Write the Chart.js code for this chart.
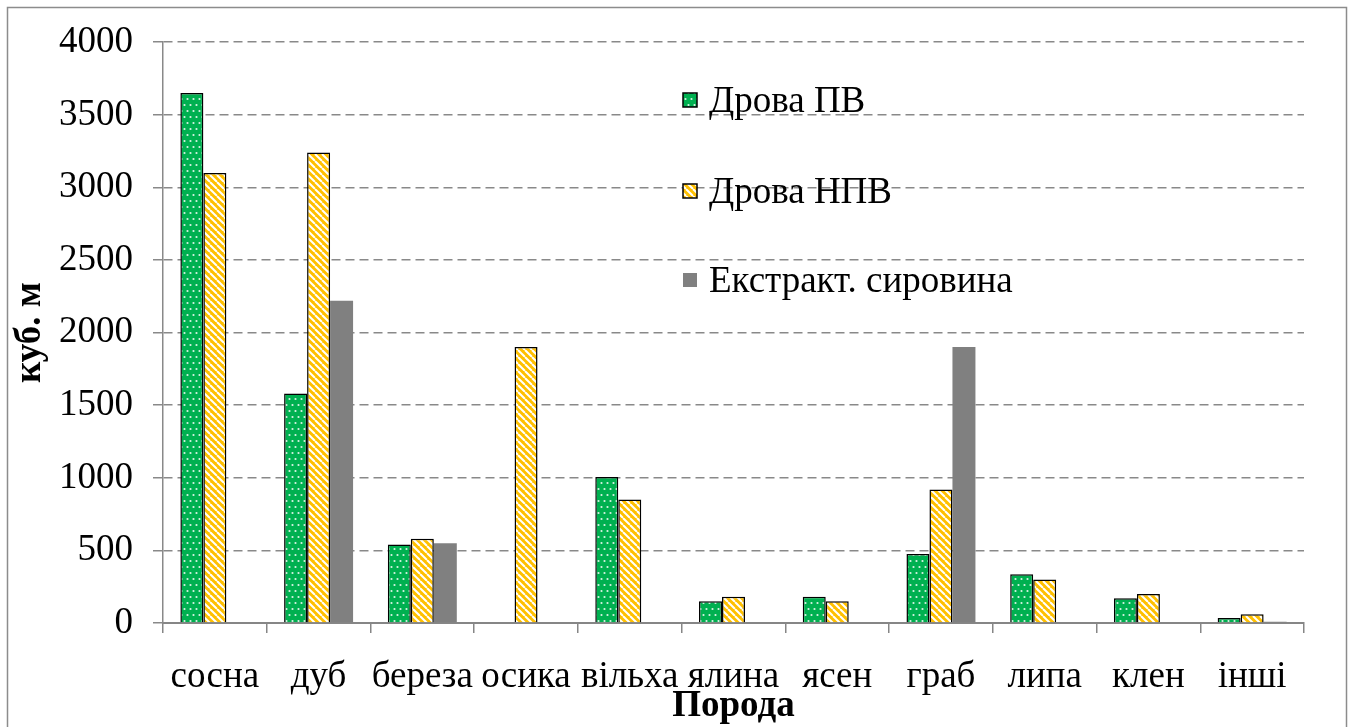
<!DOCTYPE html>
<html lang="uk">
<head>
<meta charset="UTF-8">
<title>Дрова по породах</title>
<script src="https://cdn.jsdelivr.net/npm/chart.js"></script>
<style>
  body { margin: 0; background: #fff; }
  canvas { display: block; }
</style>
</head>
<body>
<canvas id="woodChart" width="1351" height="727"></canvas>
<script>
// data
const categories = ['сосна', 'дуб', 'береза', 'осика', 'вільха', 'ялина', 'ясен', 'граб', 'липа', 'клен', 'інші'];
const drovaPV = [3650, 1580, 540, null, 1005, 150, 180, 475, 335, 170, 35];
const drovaNPV = [3100, 3240, 580, 1900, 850, 180, 150, 920, 300, 200, 60];
const ekstrakt = [null, 2220, 550, null, null, null, null, 1900, null, null, 8];
const seriesNames = ['Дрова ПВ', 'Дрова НПВ', 'Екстракт. сировина'];

const FONT = '"Liberation Serif", "Times New Roman", serif';

// green with white dots
function dotPattern() {
    const c = document.createElement('canvas');
    c.width = 6; c.height = 12;
    const g = c.getContext('2d');
    g.fillStyle = '#00B050';
    g.fillRect(0, 0, 6, 12);
    g.fillStyle = 'rgba(255,255,255,0.85)';
    g.beginPath(); g.arc(1.5, 3, 1.1, 0, Math.PI * 2); g.fill();
    g.beginPath(); g.arc(4.5, 9, 1.1, 0, Math.PI * 2); g.fill();
    return g.createPattern(c, 'repeat');
}

// yellow with white diagonal stripes
function stripePattern() {
    const c = document.createElement('canvas');
    c.width = 7; c.height = 7;
    const g = c.getContext('2d');
    g.fillStyle = '#FFC000';
    g.fillRect(0, 0, 7, 7);
    g.strokeStyle = '#ffffff';
    g.lineWidth = 2;
    for (const k of [-7, 0, 7]) {
        g.beginPath(); g.moveTo(k, 0); g.lineTo(k + 7, 7); g.stroke();
    }
    return g.createPattern(c, 'repeat');
}

const greenFill = dotPattern();
const yellowFill = stripePattern();

// legend drawn inside the plot, like the original
const innerLegend = {
    id: 'innerLegend',
    afterDraw(chart) {
        const ctx = chart.ctx;
        const rows = [100, 191, 280];
        ctx.save();
        chart.data.datasets.forEach((ds, i) => {
            const y = rows[i];
            ctx.fillStyle = ds.backgroundColor;
            ctx.fillRect(683, y - 7, 14, 14);
            if (ds.borderWidth) {
                ctx.strokeStyle = '#000';
                ctx.lineWidth = 1.5;
                ctx.strokeRect(683, y - 7, 14, 14);
            }
            ctx.fillStyle = '#000';
            ctx.font = '37px ' + FONT;
            ctx.textBaseline = 'middle';
            ctx.textAlign = 'left';
            ctx.fillText(ds.label, 709, y + 2);
        });
        // outer frame
        ctx.strokeStyle = '#8c8c8c';
        ctx.lineWidth = 1.5;
        ctx.strokeRect(7.5, 7.5, 1339, 740);
        ctx.restore();
    }
};

new Chart(document.getElementById('woodChart'), {
    type: 'bar',
    data: {
        labels: categories,
        datasets: [{
            label: seriesNames[0],
            data: drovaPV,
            backgroundColor: greenFill,
            borderColor: '#000',
            borderWidth: 1.5
        }, {
            label: seriesNames[1],
            data: drovaNPV,
            backgroundColor: yellowFill,
            borderColor: '#000',
            borderWidth: 1.5
        }, {
            label: seriesNames[2],
            data: ekstrakt,
            backgroundColor: '#808080',
            borderWidth: 0
        }]
    },
    options: {
        responsive: false,
        animation: false,
        layout: { padding: { top: 38, right: 47, left: 8, bottom: 0 } },
        categoryPercentage: 0.665,
        barPercentage: 1,
        plugins: {
            legend: { display: false },
            tooltip: { enabled: false }
        },
        scales: {
            x: {
                afterFit(scale) { scale.height = 104; },
                grid: {
                    offset: true,
                    drawOnChartArea: false,
                    drawTicks: true,
                    tickLength: 10,
                    color: '#868686',
                    lineWidth: 1.5
                },
                border: { color: '#868686', width: 2 },
                ticks: {
                    color: '#000',
                    font: { family: FONT, size: 37 },
                    padding: 22,
                    maxRotation: 0,
                    autoSkip: false
                },
                title: {
                    display: true,
                    text: 'Порода',
                    color: '#000',
                    font: { family: FONT, size: 37, weight: 'bold' },
                    padding: { top: 0, bottom: -2 }
                }
            },
            y: {
                min: 0,
                max: 4000,
                afterFit(scale) { scale.width = 155; },
                grid: {
                    color: '#898989',
                    lineWidth: 1.5,
                    tickLength: 10,
                    tickBorderDash: [],
                    tickColor: '#898989'
                },
                border: { color: '#898989', width: 1.5, dash: [9, 5] },
                ticks: {
                    stepSize: 500,
                    color: '#000',
                    font: { family: FONT, size: 37 },
                    padding: 20,
                    callback: (v) => String(v)
                },
                title: {
                    display: true,
                    text: 'куб. м',
                    color: '#000',
                    font: { family: FONT, size: 37, weight: 'bold' },
                    padding: { top: 0, bottom: 0 }
                }
            }
        }
    },
    plugins: [innerLegend]
});
</script>
</body>
</html>
